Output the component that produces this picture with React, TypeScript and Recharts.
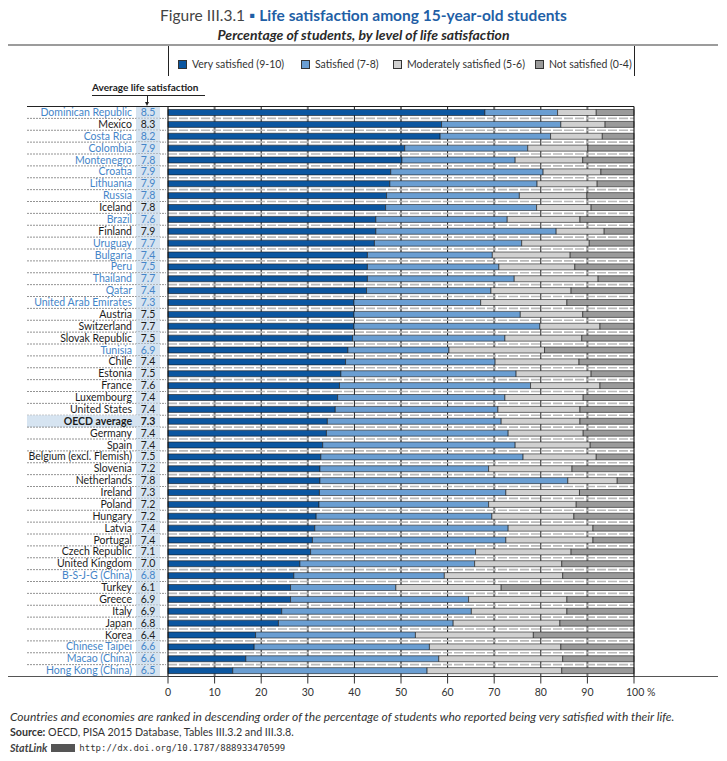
import { BarChart, Bar, XAxis, YAxis, ReferenceLine, CartesianGrid } from "recharts";

const countries = [
  "Dominican Republic", "Mexico", "Costa Rica", "Colombia", "Montenegro", "Croatia",
  "Lithuania", "Russia", "Iceland", "Brazil", "Finland", "Uruguay", "Bulgaria", "Peru",
  "Thailand", "Qatar", "United Arab Emirates", "Austria", "Switzerland", "Slovak Republic",
  "Tunisia", "Chile", "Estonia", "France", "Luxembourg", "United States", "OECD average",
  "Germany", "Spain", "Belgium (excl. Flemish)", "Slovenia", "Netherlands", "Ireland",
  "Poland", "Hungary", "Latvia", "Portugal", "Czech Republic", "United Kingdom",
  "B-S-J-G (China)", "Turkey", "Greece", "Italy", "Japan", "Korea", "Chinese Taipei",
  "Macao (China)", "Hong Kong (China)",
];

// partner economies are labelled in blue
const partners = [
  "Dominican Republic", "Costa Rica", "Colombia", "Montenegro", "Croatia", "Lithuania",
  "Russia", "Brazil", "Uruguay", "Bulgaria", "Peru", "Thailand", "Qatar",
  "United Arab Emirates", "Tunisia", "B-S-J-G (China)", "Chinese Taipei", "Macao (China)",
  "Hong Kong (China)",
];

const avgSatisfaction = [
  8.5, 8.3, 8.2, 7.9, 7.8, 7.9, 7.9, 7.8, 7.8, 7.6, 7.9, 7.7, 7.4, 7.5, 7.7, 7.4, 7.3, 7.5,
  7.7, 7.5, 6.9, 7.4, 7.5, 7.6, 7.4, 7.4, 7.3, 7.4, 7.4, 7.5, 7.2, 7.8, 7.3, 7.2, 7.2, 7.4,
  7.4, 7.1, 7.0, 6.8, 6.1, 6.9, 6.9, 6.8, 6.4, 6.6, 6.6, 6.5,
];

const verySatisfied = [
  68.0, 58.7, 58.4, 50.8, 50.2, 47.8, 47.6, 46.9, 46.7, 44.6, 44.6, 44.3, 42.8, 42.8, 42.8,
  42.6, 39.9, 39.9, 39.9, 39.6, 38.6, 38.1, 37.1, 36.8, 36.4, 35.9, 34.2, 34.0, 33.2, 32.8,
  32.6, 32.6, 32.5, 32.4, 31.8, 31.5, 31.0, 30.6, 28.3, 27.0, 26.3, 26.3, 24.4, 23.7, 18.8,
  18.5, 16.7, 13.9,
];
const satisfied = [
  15.6, 25.6, 23.7, 26.4, 24.3, 32.7, 31.6, 28.5, 32.4, 28.2, 38.7, 31.6, 26.8, 28.2, 31.5,
  26.7, 27.2, 35.7, 39.9, 32.7, 21.7, 32.1, 37.6, 41.0, 35.9, 34.9, 37.3, 39.0, 41.3, 43.4,
  36.2, 53.2, 40.0, 36.4, 37.7, 41.5, 41.5, 35.4, 37.5, 32.3, 22.6, 38.2, 40.7, 37.5, 34.3,
  37.6, 41.4, 41.7,
];
const moderatelySatisfied = [
  8.3, 9.5, 11.1, 12.9, 14.5, 12.4, 12.9, 14.5, 11.7, 15.6, 10.3, 14.5, 16.7, 16.3, 18.0,
  17.2, 18.5, 13.4, 12.9, 16.5, 20.5, 18.0, 16.1, 14.9, 16.8, 17.6, 16.9, 16.1, 16.1, 15.7,
  17.9, 10.6, 15.8, 18.8, 17.6, 18.2, 18.7, 20.5, 18.7, 25.4, 22.6, 21.1, 20.5, 22.9, 25.3,
  28.2, 26.6, 28.9,
];
const notSatisfied = [
  8.1, 6.2, 6.8, 9.9, 11.0, 7.1, 7.9, 10.1, 9.2, 11.6, 6.4, 9.6, 13.7, 12.7, 7.7, 13.5,
  14.4, 11.0, 7.3, 11.2, 19.2, 11.8, 9.2, 7.3, 10.9, 11.6, 11.6, 10.9, 9.4, 8.1, 13.3, 3.6,
  11.7, 12.4, 12.9, 8.8, 8.8, 13.5, 15.5, 15.3, 28.5, 14.4, 14.4, 15.9, 21.6, 15.7, 15.3,
  15.5,
];

const xTicks = [0, 10, 20, 30, 40, 50, 60, 70, 80, 90, 100];
const greyGrid = [10, 30, 50, 70, 90];
const blackGrid = [20, 40, 60, 80];

const seriesNames = [
  "Very satisfied (9-10)", "Satisfied (7-8)", "Moderately satisfied (5-6)", "Not satisfied (0-4)",
];
const seriesColors = ["#0b56a0", "#6a9ed2", "#d0d0d0", "#9a9a9a"];

const data = countries.map((name, i) => ({
  name,
  avg: avgSatisfaction[i],
  very: verySatisfied[i],
  sat: satisfied[i],
  mod: moderatelySatisfied[i],
  not: notSatisfied[i],
}));

const FONT = "Lato, 'Open Sans', sans-serif";
const PLOT_TOP = 98.5;
const PLOT_H = 570;
const BAND = PLOT_H / countries.length;
const BLUE_TEXT = "#4585c8";

// place grid lines through the x axis scale when available
const gridAt = (values: number[]) => (args: any) => {
  const { xAxis, offset } = args;
  if (xAxis && typeof xAxis.scale === "function") {
    return values.map((v) => xAxis.scale(v));
  }
  return values.map((v) => offset.left + (v / 100) * offset.width);
};

function CountryTick(props: any) {
  const { y, payload, index } = props;
  const name = payload.value as string;
  const i = countries.indexOf(name);
  const color = partners.includes(name) ? BLUE_TEXT : "#1c1c1c";
  const isOecd = name === "OECD average";
  return (
    <g>
      {isOecd && (
        <rect x={19} y={y - BAND / 2} width={110} height={BAND} fill="#d6e4f1" />
      )}
      <rect x={128} y={y - BAND / 2} width={24} height={BAND} fill="#d5e3f0" />
      {index === 0 && (
        <line x1={19} x2={160} y1={y - BAND / 2} y2={y - BAND / 2} stroke="#222" strokeWidth={1.2} />
      )}
      {i < countries.length - 1 ? (
        <line
          x1={19}
          x2={158}
          y1={y + BAND / 2}
          y2={y + BAND / 2}
          stroke="#777"
          strokeWidth={0.8}
          strokeDasharray="2 1"
        />
      ) : (
        <line x1={0} x2={160} y1={y + BAND / 2} y2={y + BAND / 2} stroke="#555" strokeWidth={1.2} />
      )}
      <text
        x={124}
        y={y}
        dy="0.35em"
        textAnchor="end"
        fontSize={10.5}
        fontWeight={isOecd ? 700 : 400}
        fill={color}
        fontFamily={FONT}
      >
        {name}
      </text>
      <text
        x={140}
        y={y}
        dy="0.35em"
        textAnchor="middle"
        fontSize={10.5}
        fontWeight={isOecd ? 700 : 400}
        fill={color}
        fontFamily={FONT}
      >
        {avgSatisfaction[i].toFixed(1)}
      </text>
    </g>
  );
}

function PercentTick(props: any) {
  const { x, y, payload } = props;
  const v = payload.value;
  return (
    <text
      x={v === 100 ? x - 8 : x}
      y={y}
      dy="0.71em"
      textAnchor={v === 100 ? "start" : "middle"}
      fontSize={10.5}
      fill="#333"
      fontFamily={FONT}
    >
      {v === 100 ? "100 %" : v}
    </text>
  );
}

export default function App() {
  return (
    <div style={{ position: "relative", width: 711, height: 745, fontFamily: FONT, color: "#222" }}>
      <div
        style={{
          position: "absolute",
          top: -1,
          left: 0,
          width: 711,
          textAlign: "center",
          fontSize: 15.5,
          lineHeight: "16px",
        }}
      >
        <span style={{ color: "#444" }}>Figure III.3.1 </span>
        <span style={{ color: "#1f5fa6" }}>▪ </span>
        <span style={{ color: "#1f5fa6", fontWeight: 700 }}>
          Life satisfaction among 15-year-old students
        </span>
      </div>
      <div
        style={{
          position: "absolute",
          top: 19,
          left: 0,
          width: 711,
          textAlign: "center",
          fontSize: 14,
          fontStyle: "italic",
          fontWeight: 700,
          lineHeight: "16px",
          color: "#2a2a2a",
        }}
      >
        Percentage of students, by level of life satisfaction
      </div>
      <div style={{ position: "absolute", top: 36, left: 0, width: 710, height: 2, background: "#9c9c9c" }} />
      <div style={{ position: "absolute", top: 38, left: 160, width: 1, height: 30, background: "#222" }} />
      <div style={{ position: "absolute", top: 38, left: 626, width: 1, height: 30, background: "#222" }} />
      {seriesNames.map((s, i) => (
        <div
          key={s}
          style={{
            position: "absolute",
            top: 50,
            left: [170, 293, 385, 527][i],
            display: "flex",
            alignItems: "center",
            fontSize: 10.5,
            lineHeight: "12px",
            color: "#333",
            whiteSpace: "nowrap",
          }}
        >
          <span
            style={{
              display: "inline-block",
              width: 7,
              height: 7,
              background: seriesColors[i],
              border: "1px solid #333",
              marginRight: 5,
            }}
          />
          {s}
        </div>
      ))}
      <div
        style={{
          position: "absolute",
          top: 73,
          left: 84,
          fontSize: 10,
          fontWeight: 700,
          lineHeight: "12px",
          color: "#222",
          whiteSpace: "nowrap",
        }}
      >
        Average life satisfaction
      </div>
      <div style={{ position: "absolute", top: 87, left: 84, width: 113, height: 1, background: "#222" }} />
      <div style={{ position: "absolute", top: 87, left: 139, width: 1, height: 8, background: "#222" }} />
      <div
        style={{
          position: "absolute",
          top: 94,
          left: 137,
          width: 0,
          height: 0,
          borderLeft: "2.5px solid transparent",
          borderRight: "2.5px solid transparent",
          borderTop: "4px solid #222",
        }}
      />
      <div style={{ position: "absolute", top: 668, left: 626, width: 84, height: 1.2, background: "#555" }} />
      <div style={{ position: "absolute", top: 0, left: 0 }}>
        <BarChart
          width={711}
          height={700}
          data={data}
          layout="vertical"
          margin={{ top: PLOT_TOP, right: 85, bottom: 7.5, left: 0 }}
        >
          <CartesianGrid
            horizontal={false}
            stroke="#7a7a7a"
            strokeWidth={2}
            verticalCoordinatesGenerator={gridAt(greyGrid)}
          />
          <CartesianGrid
            horizontal={false}
            stroke="#1a1a1a"
            strokeWidth={1}
            verticalCoordinatesGenerator={gridAt(blackGrid)}
          />
          {countries.slice(0, -1).map((c) => (
            <ReferenceLine
              key={c}
              y={c}
              position="end"
              stroke="#b9b9b9"
              strokeWidth={1.6}
              strokeDasharray="9 2"
            />
          ))}
          <XAxis
            type="number"
            domain={[0, 100]}
            ticks={xTicks}
            height={24}
            tickSize={7}
            tickMargin={5}
            stroke="#333"
            tick={<PercentTick />}
          />
          <YAxis
            type="category"
            dataKey="name"
            width={160}
            interval={0}
            axisLine={false}
            tickLine={false}
            tick={<CountryTick />}
          />
          <Bar dataKey="very" stackId="a" barSize={6} fill={seriesColors[0]} stroke="#1a1a1a" strokeWidth={0.6} isAnimationActive={false} />
          <Bar dataKey="sat" stackId="a" barSize={6} fill={seriesColors[1]} stroke="#1a1a1a" strokeWidth={0.6} isAnimationActive={false} />
          <Bar dataKey="mod" stackId="a" barSize={6} fill={seriesColors[2]} stroke="#1a1a1a" strokeWidth={0.6} isAnimationActive={false} />
          <Bar dataKey="not" stackId="a" barSize={6} fill={seriesColors[3]} stroke="#1a1a1a" strokeWidth={0.6} isAnimationActive={false} />
          <ReferenceLine x={0} stroke="#1a1a1a" strokeWidth={1.2} />
          <ReferenceLine x={100} stroke="#1a1a1a" strokeWidth={1.2} />
          <ReferenceLine y={countries[0]} position="start" stroke="#1a1a1a" strokeWidth={1.2} />
        </BarChart>
      </div>
      <div
        style={{
          position: "absolute",
          top: 702,
          left: 2,
          fontSize: 10.7,
          lineHeight: "14px",
          color: "#333",
          whiteSpace: "nowrap",
        }}
      >
        <div style={{ fontStyle: "italic", fontSize: 12, lineHeight: "14px" }}>
          Countries and economies are ranked in descending order of the percentage of students who reported being very satisfied with their life.
        </div>
        <div style={{ marginTop: 1 }}>
          <b>Source:</b> OECD, PISA 2015 Database, Tables III.3.2 and III.3.8.
        </div>
        <div style={{ marginTop: 2, display: "flex", alignItems: "center" }}>
          <b style={{ fontStyle: "italic", color: "#444", marginRight: 4 }}>StatLink</b>
          <span
            style={{
              display: "inline-block",
              width: 24,
              height: 8,
              background: "#555",
              marginRight: 4,
            }}
          />
          <span style={{ fontFamily: "'DejaVu Sans Mono', monospace", fontSize: 9 }}>
            http://dx.doi.org/10.1787/888933470599
          </span>
        </div>
      </div>
    </div>
  );
}
